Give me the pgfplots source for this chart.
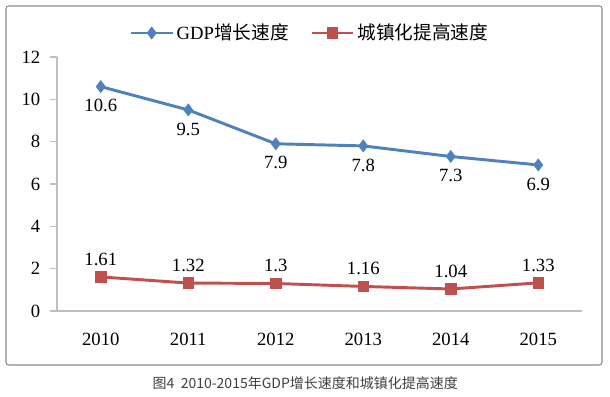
\documentclass[border=0pt]{standalone}
\usepackage{pgfplots}
\pgfplotsset{compat=1.18}
\usepackage{fontspec}
\setmainfont{Liberation Serif}
\newfontfamily\cjk{Noto Sans CJK SC}
\definecolor{cblue}{HTML}{4F81BD}
\definecolor{cred}{HTML}{C0504D}
\definecolor{frame}{HTML}{8C8C8C}
\definecolor{axgray}{HTML}{BFBFBF}
\begin{document}
\begin{tikzpicture}[x=1pt,y=1pt]
\path[use as bounding box] (0,0) rectangle (457.5,297);
\draw[frame, line width=0.8pt, rounded corners=2pt] (4.5,23.25) rectangle (451.5,292.5);
\begin{axis}[
  at={(42.75pt,63.75pt)}, anchor=south west,
  scale only axis, width=393.75pt, height=190.5pt,
  xmin=-0.5, xmax=5.5, ymin=0, ymax=12,
  axis lines=left, axis line style={axgray, line width=0.8pt, -},
  xtick={0,...,5}, xticklabels={2010,2011,2012,2013,2014,2015},
  ytick={0,2,...,12},
  major x tick style={draw=none},
  extra x ticks={-0.5,0.5,1.5,2.5,3.5,4.5,5.5}, extra x tick labels={},
  extra x tick style={tick style={axgray, line width=0.8pt}, major tick length=5pt, tick align=outside},
  y tick style={axgray, line width=0.8pt}, major tick length=5pt, tick align=outside,
  tick label style={font=\fontsize{14}{16}\selectfont},
  /pgf/number format/assume math mode=true,
  xticklabel style={yshift=-8pt},
  yticklabel style={xshift=-4pt},
  clip=false,
  legend style={at={(0.482,1.0945)}, anchor=center, draw=none, fill=none,
    legend columns=2, font=\fontsize{14}{16}\selectfont,
    /tikz/every even column/.style={column sep=14pt}},
  legend image code/.code={\draw[mark repeat=2,mark phase=2] plot coordinates {(0cm,0cm) (0.55cm,0cm) (1.1cm,0cm)};},
  nodes near coords style={font=\fontsize{14}{16}\selectfont, /pgf/number format/assume math mode=true},
]
\addplot[cblue, line width=2.2pt, mark=diamond*, mark size=4.5pt, mark options={line width=0.5pt, fill=cblue},
  nodes near coords, point meta=explicit symbolic,
  every node near coord/.append style={anchor=north, yshift=-6pt, text=black}]
  coordinates {(0,10.6)[10.6] (1,9.5)[9.5] (2,7.9)[7.9] (3,7.8)[7.8] (4,7.3)[7.3] (5,6.9)[6.9]};
\addlegendentry{GDP{\cjk 增长速度}}
\addplot[cred, line width=2.2pt, mark=square*, mark size=4pt, mark options={line width=0.5pt, fill=cred},
  nodes near coords, point meta=explicit symbolic,
  every node near coord/.append style={anchor=south, yshift=5pt, text=black}]
  coordinates {(0,1.61)[1.61] (1,1.32)[1.32] (2,1.3)[1.3] (3,1.16)[1.16] (4,1.04)[1.04] (5,1.33)[1.33]};
\addlegendentry{{\cjk 城镇化提高速度}}
\end{axis}
\node[text=black!75, font=\cjk\fontsize{10.5}{12}\selectfont] at (229,9.75) {图4\ \ 2010-2015年GDP增长速度和城镇化提高速度};
\end{tikzpicture}
\end{document}
